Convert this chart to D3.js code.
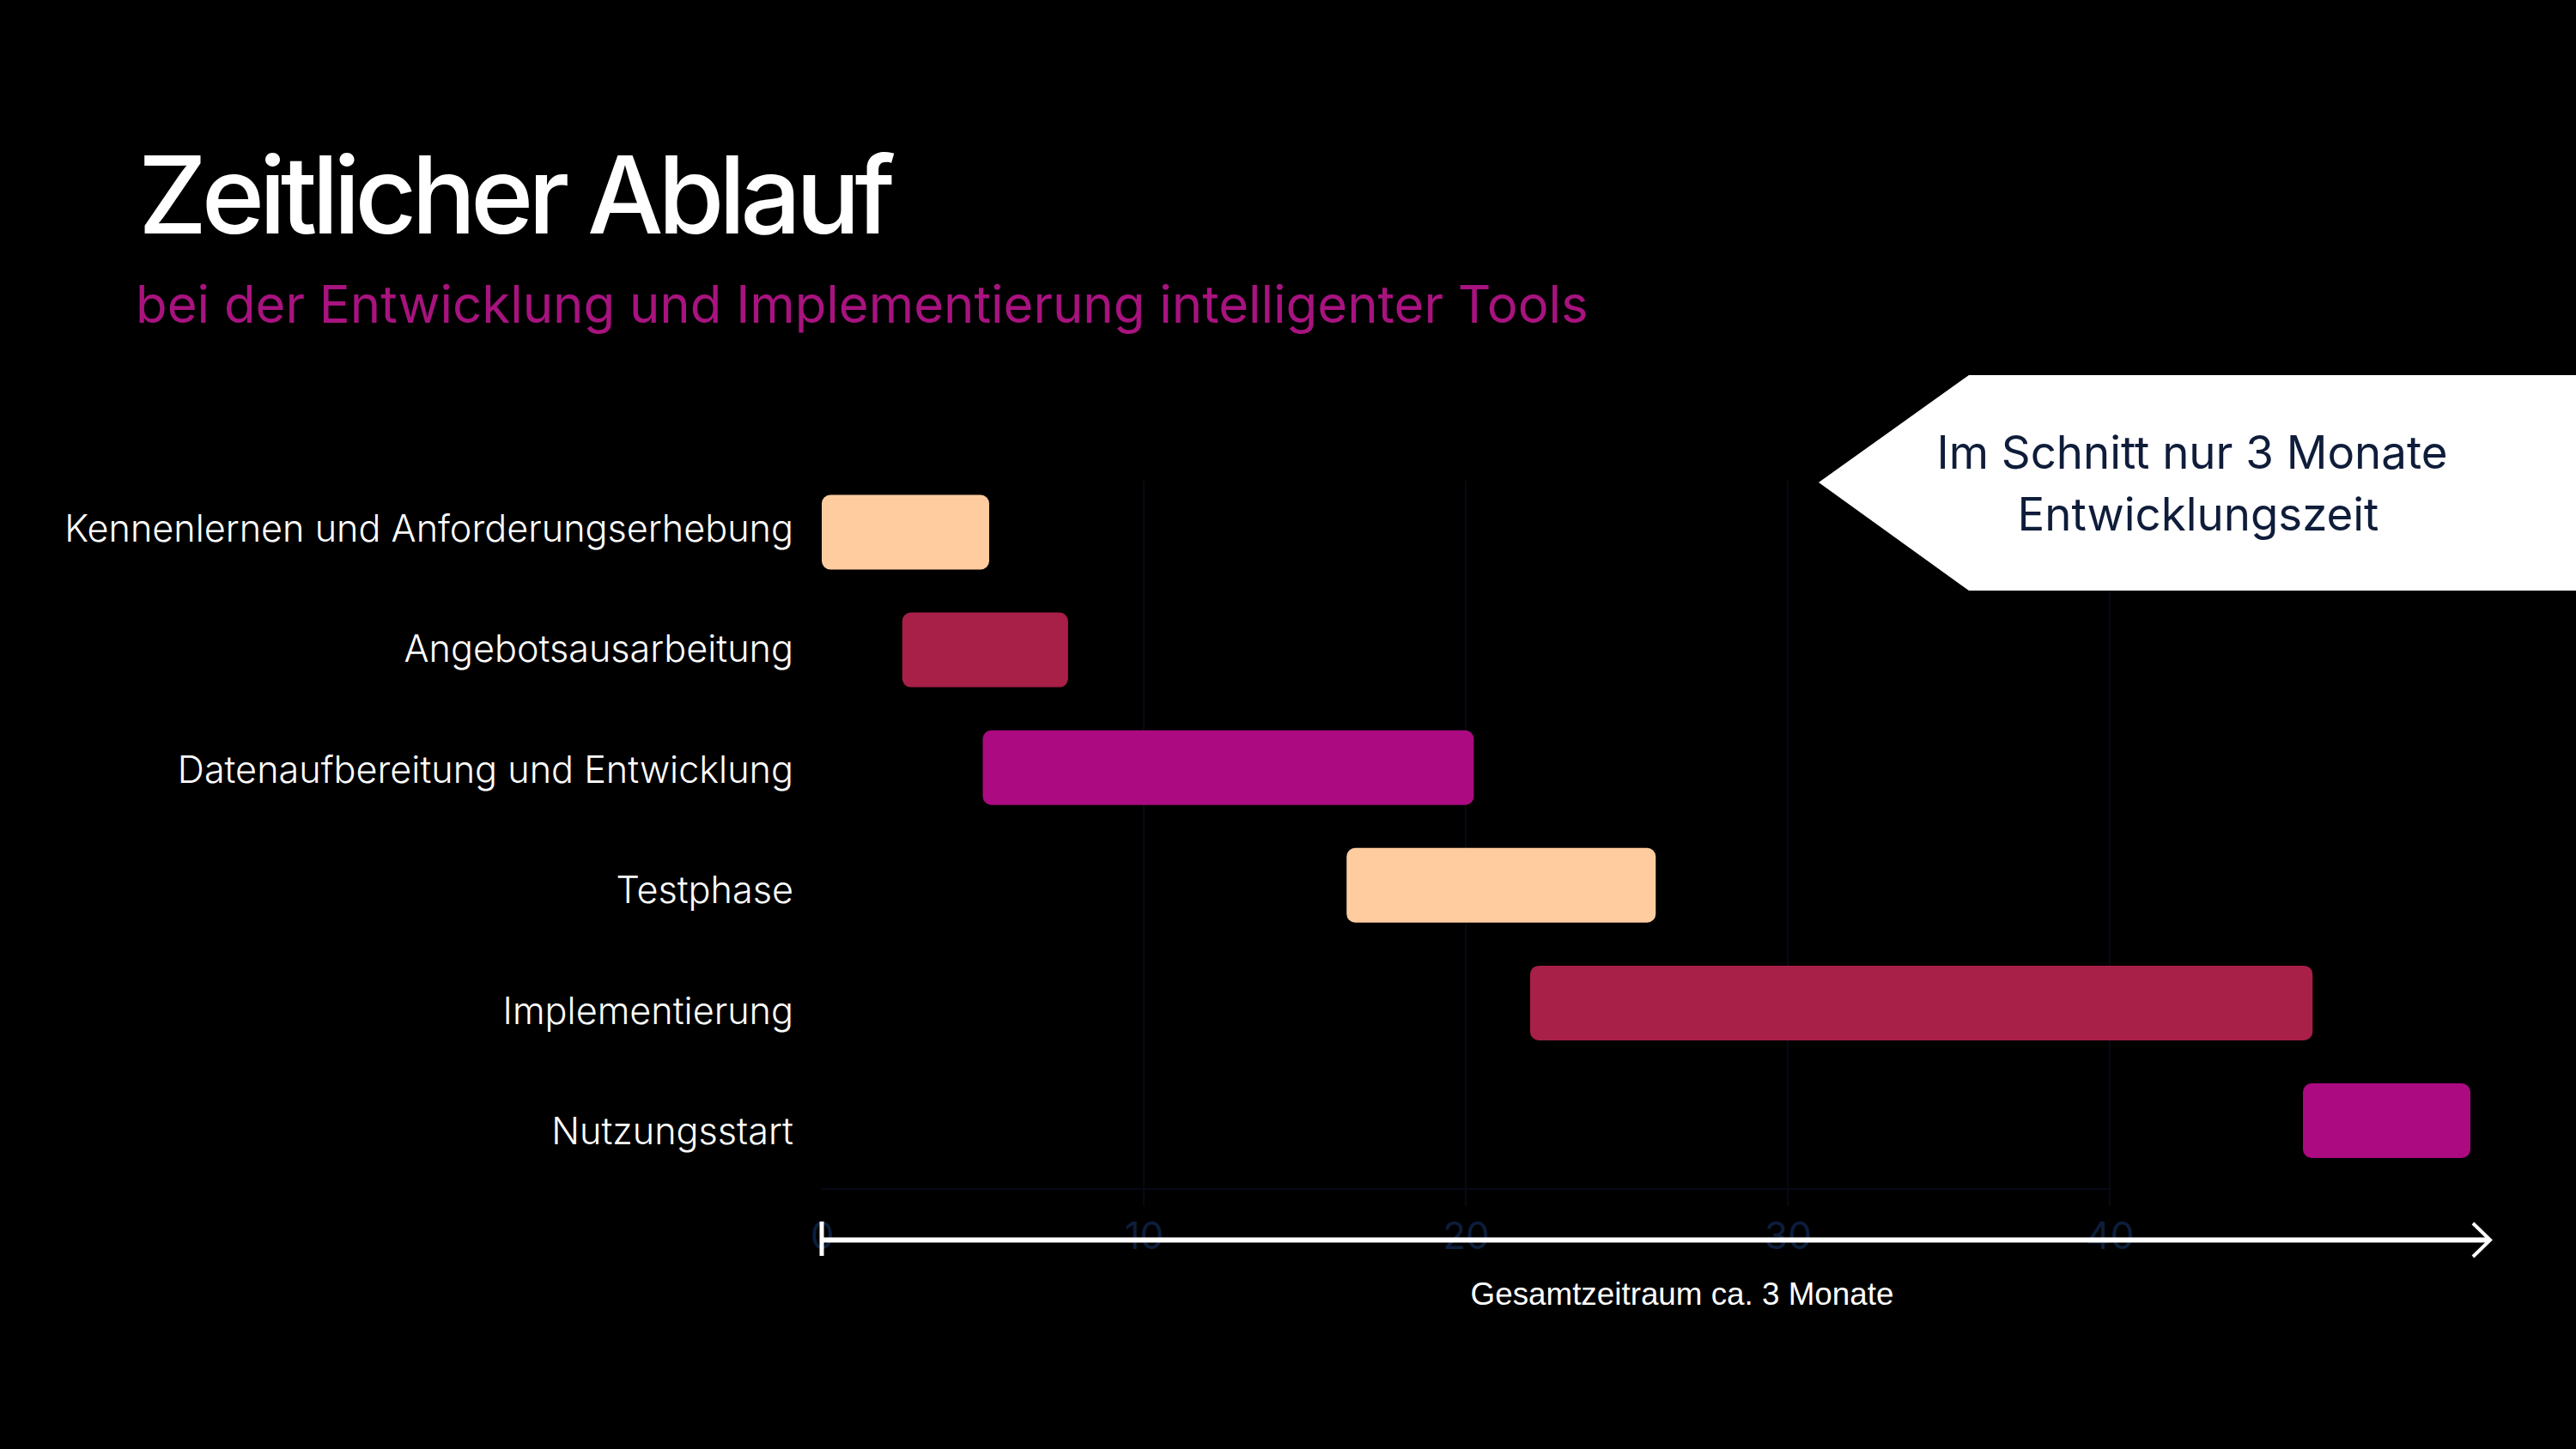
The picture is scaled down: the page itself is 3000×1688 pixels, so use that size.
<!DOCTYPE html>
<html><head><meta charset="utf-8">
<script src="https://cdn.jsdelivr.net/npm/d3@7"></script>
<style>
html,body{margin:0;padding:0;background:#000;}
svg{display:block;}
</style></head>
<body>
<script>
// ---- data ----
const categories = ["Kennenlernen und Anforderungserhebung","Angebotsausarbeitung","Datenaufbereitung und Entwicklung","Testphase","Implementierung","Nutzungsstart"];
const starts = [0, 2.5, 5.0, 16.3, 22.0, 46.0];
const ends   = [5.2, 7.65, 20.25, 25.9, 46.3, 51.2];
const tickValues = [0, 10, 20, 30, 40];
const barColors = ["#FFCC9F", "#A81F48", "#AB0A80"];
const titleText = "Zeitlicher Ablauf";
const subtitleText = "bei der Entwicklung und Implementierung intelligenter Tools";
const calloutLines = ["Im Schnitt nur 3 Monate", "Entwicklungszeit"];
const axisTitle = "Gesamtzeitraum ca. 3 Monate";

const W = 3000, H = 1688;
const svg = d3.select("body").append("svg").attr("width", W).attr("height", H);
svg.append("rect").attr("width", W).attr("height", H).attr("fill", "#000");

const FONT = "Inter, 'Noto Sans', sans-serif";

function fitWidth(sel, target) {
  const fs = parseFloat(sel.attr("font-size"));
  const w = sel.node().getComputedTextLength();
  sel.attr("font-size", fs * target / w);
}

// scales
const x = d3.scaleLinear().domain([0, 40]).range([957, 2457]);
const yBar = d3.scalePoint().domain(categories).range([620, 1305.5]);
const yLab = d3.scalePoint().domain(categories).range([630.5, 1333]);
const barH = 87;

// very faint gridlines
svg.append("g").selectAll("line").data(tickValues.slice(1)).join("line")
  .attr("x1", d => x(d)).attr("x2", d => x(d))
  .attr("y1", 560).attr("y2", 1405)
  .attr("stroke", "#050a14").attr("stroke-width", 2);
svg.append("line").attr("x1", x(0)).attr("x2", x(40)).attr("y1", 1385).attr("y2", 1385)
  .attr("stroke", "#050a14").attr("stroke-width", 2);

// title
const t = svg.append("text").text(titleText).attr("x", 161).attr("y", 272)
  .attr("font-family", FONT).attr("font-weight", 500).attr("font-size", 125)
  .attr("fill", "#fff");
{
  const w = t.node().getComputedTextLength();
  const n = titleText.length;
  t.attr("letter-spacing", (882 - w) / (n - 1));
}
const st = svg.append("text").text(subtitleText).attr("x", 158).attr("y", 376)
  .attr("font-family", FONT).attr("font-size", 60).attr("fill", "#A8137F");
fitWidth(st, 1692);

// category labels
const labs = svg.append("g").selectAll("text").data(categories).join("text")
  .text(d => d).attr("x", 924).attr("y", d => yLab(d))
  .attr("text-anchor", "end").attr("font-family", FONT).attr("font-weight", 300)
  .attr("font-size", 42).attr("fill", "#fff");
{
  const w0 = labs.nodes()[0].getComputedTextLength();
  labs.attr("font-size", 42 * 849 / w0);
}

// bars
const bars = categories.map((c, i) => ({c, s: starts[i], e: ends[i], i}));
svg.append("g").selectAll("rect").data(bars).join("rect")
  .attr("x", d => x(d.s)).attr("width", d => x(d.e) - x(d.s))
  .attr("y", d => yBar(d.c) - barH / 2).attr("height", barH)
  .attr("rx", 10).attr("ry", 10)
  .attr("fill", d => barColors[d.i % 3]);

// axis tick labels (dark)
const axisG = svg.append("g").attr("transform", "translate(0,1439)");
const axis = d3.axisBottom(x).tickValues(tickValues).tickSize(0).tickPadding(0);
axisG.call(axis);
axisG.select(".domain").remove();
axisG.selectAll("text").attr("font-family", FONT).attr("font-size", 44)
  .attr("fill", "#0D1E3C").attr("dy", "0.36em").attr("y", 0);

// axis line with arrow
const axEnd = 2900;
svg.append("line").attr("x1", x(0)).attr("x2", axEnd - 2).attr("y1", 1444.5).attr("y2", 1444.5)
  .attr("stroke", "#fff").attr("stroke-width", 6);
svg.append("rect").attr("x", x(0) - 2.5).attr("y", 1423).attr("width", 5).attr("height", 40).attr("fill", "#fff");
svg.append("path").attr("d", `M${axEnd-20},1425 L${axEnd},1444.5 L${axEnd-20},1464`)
  .attr("fill", "none").attr("stroke", "#fff").attr("stroke-width", 4).attr("stroke-linejoin", "miter");

// axis title
const at = svg.append("text").text(axisTitle).attr("x", 1959).attr("y", 1520)
  .attr("text-anchor", "middle").attr("font-family", "'Liberation Sans', Arial, sans-serif")
  .attr("font-size", 35).attr("fill", "#fff");
fitWidth(at, 493);

// callout
svg.append("path").attr("d", "M2118,562 L2293,437 L3000,437 L3000,688 L2293,688 Z").attr("fill", "#fff");
const c1 = svg.append("text").text(calloutLines[0]).attr("x", 2553).attr("y", 546)
  .attr("text-anchor", "middle").attr("font-family", FONT).attr("font-size", 54).attr("fill", "#0F1D3A");
fitWidth(c1, 595);
const fsC = c1.attr("font-size");
svg.append("text").text(calloutLines[1]).attr("x", 2560).attr("y", 618)
  .attr("text-anchor", "middle").attr("font-family", FONT).attr("font-size", fsC).attr("fill", "#0F1D3A");
</script>
</body></html>
